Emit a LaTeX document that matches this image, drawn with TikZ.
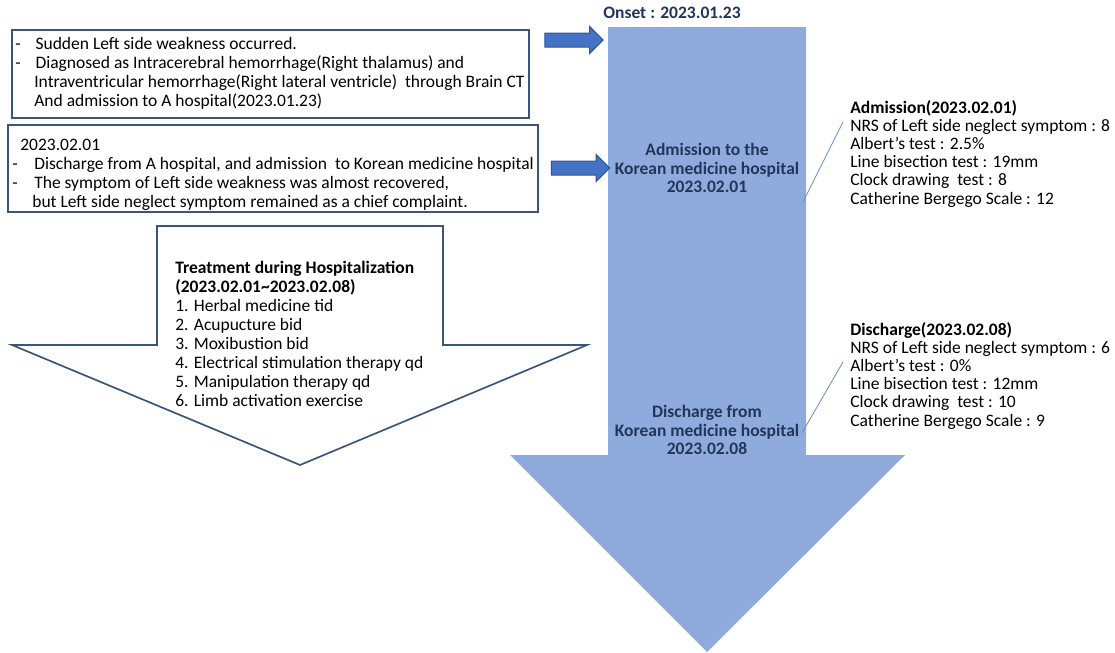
\documentclass[tikz,border=0pt]{standalone}
\usepackage{fontspec}
\setmainfont{Carlito}
\usepackage{tikz}
\usetikzlibrary{shapes.arrows,positioning}
\definecolor{flowblue}{HTML}{8FAADC}
\definecolor{pushblue}{HTML}{4472C4}
\definecolor{pushedge}{HTML}{2F5597}
\definecolor{frameblue}{HTML}{3A5578}
\definecolor{navy}{HTML}{22355A}

\begin{document}
\begin{tikzpicture}[x=0.6pt,y=-0.6pt,
  txt/.style={font=\fontsize{10.5}{11.4}\selectfont, align=left, inner sep=0pt, anchor=north west},
  notetxt/.style={txt, font=\fontsize{10.5}{10.9}\selectfont},
  flowtxt/.style={font=\bfseries\fontsize{10.5}{11.1}\selectfont, align=center, inner sep=0pt, text=navy},
  framebox/.style={draw=frameblue, line width=1pt, inner sep=0pt},
  push/.style={single arrow, fill=pushblue, draw=pushedge, line width=0.6pt, inner sep=3.9pt,
    single arrow head extend=3.9pt, single arrow head indent=0pt,
    minimum width=15.6pt, minimum height=35pt},
  callout/.style={draw=pushblue!80, line width=0.5pt}]
  \useasboundingbox (0,0) rectangle (1115,653);

  % main time line
  \fill[flowblue] (608,27) -- (806,27) -- (806,455) -- (905,455) -- (707,652)
    -- (510,455) -- (608,455) -- cycle;
  \node[flowtxt] (onset) at (672,13) {Onset : 2023.01.23};
  \node[flowtxt] (admit) at (707,168) {Admission to the\\Korean medicine hospital\\2023.02.01};
  \node[flowtxt] (leave) at (707,430) {Discharge from\\Korean medicine hospital\\2023.02.08};

  % hospital A
  \node[framebox, minimum width=310.2pt, minimum height=52.8pt] (boxA) at (270.5,74) {};
  \node[txt] (textA) at (15,37)
    {-\hspace{0.85em}Sudden Left side weakness occurred.\\
     -\hspace{0.85em}Diagnosed as Intracerebral hemorrhage(Right thalamus) and\\
     \hspace*{11.4pt}Intraventricular hemorrhage(Right lateral ventricle)\ \ through Brain CT\\
     \hspace*{11.4pt}And admission to A hospital(2023.01.23)};

  \node[framebox, minimum width=318pt, minimum height=52.2pt] (boxB) at (273,168.5) {};
  \node[txt] (textB) at (12,139)
    {\hspace*{4.8pt}2023.02.01\\
     -\hspace{0.95em}Discharge from A hospital, and admission\ \ to Korean medicine hospital\\
     -\hspace{0.95em}The symptom of Left side weakness was almost recovered,\\
     \hspace*{12pt}but Left side neglect symptom remained as a chief complaint.};

  \node[push] (pushA) at (570.5,40) {};
  \node[push] (pushB) at (577,168) {};

  % treatment
  \draw[frameblue, line width=1pt, fill=white] (157,226) -- (443,226) -- (443,345) -- (587,345)
    -- (300,465) -- (12,345) -- (157,345) -- cycle;
  \node[txt] (treat) at (175,261)
    {\textbf{Treatment during Hospitalization}\\
     \textbf{(2023.02.01\textasciitilde2023.02.08)}\\
     1. Herbal medicine tid\\
     2. Acupucture bid\\
     3. Moxibustion bid\\
     4. Electrical stimulation therapy qd\\
     5. Manipulation therapy qd\\
     6. Limb activation exercise};

  % scores
  \node[notetxt] (admnote) at (850,100)
    {\textbf{Admission(2023.02.01)}\\
     NRS of Left side neglect symptom : 8\\
     Albert's test : 2.5\%\\
     Line bisection test : 19mm\\
     Clock drawing\ \ test : 8\\
     Catherine Bergego Scale : 12};
  \node[notetxt] (disnote) at (850,322)
    {\textbf{Discharge(2023.02.08)}\\
     NRS of Left side neglect symptom : 6\\
     Albert's test : 0\%\\
     Line bisection test : 12mm\\
     Clock drawing\ \ test : 10\\
     Catherine Bergego Scale : 9};

  \coordinate (admfoot) at (803,202);
  \coordinate (admtip) at (843,122);
  \coordinate (disfoot) at (802,433);
  \coordinate (distip) at (843,362);
  \draw[callout] (admfoot) -- (admtip);
  \draw[callout] (disfoot) -- (distip);
\end{tikzpicture}
\end{document}
